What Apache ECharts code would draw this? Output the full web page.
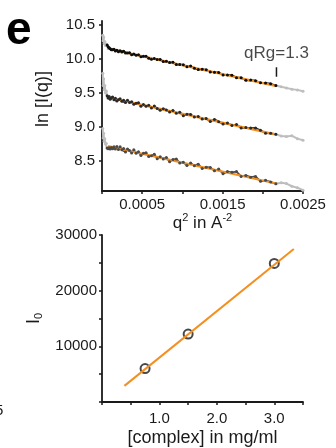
<!DOCTYPE html>
<html>
<head>
<meta charset="utf-8">
<script src="https://cdn.jsdelivr.net/npm/echarts@6/dist/echarts.min.js"></script>
<style>
  html, body { margin: 0; padding: 0; background: #fff; }
  #chart { width: 336px; height: 448px; }
</style>
</head>
<body>
<div id="chart"></div>
<script>
// Guinier plots: q^2 (A^-2) for every measured point
const q2 = [0.0000096, 0.0000144, 0.0000203, 0.000027, 0.0000348, 0.0000436, 0.0000533, 0.000064,
  0.0000757, 0.0000884, 0.000102, 0.0001166, 0.0001323, 0.0001488, 0.0001664, 0.000185, 0.0002045,
  0.000225, 0.0002465, 0.000269, 0.0002924, 0.0003168, 0.0003423, 0.0003686, 0.000396, 0.0004244,
  0.0004537, 0.000484, 0.0005153, 0.0005476, 0.0005808, 0.000615, 0.0006503, 0.0006864, 0.0007236,
  0.0007618, 0.0008009, 0.000841, 0.0008821, 0.0009242, 0.0009672, 0.0010112, 0.0010563, 0.0011022,
  0.0011492, 0.0011972, 0.0012461, 0.001296, 0.0013469, 0.0013988, 0.0014516, 0.0015054, 0.0015603,
  0.001616, 0.0016728, 0.0017306, 0.0017893, 0.001849, 0.0019097, 0.0019714, 0.002034, 0.0020976,
  0.0021623, 0.0022278, 0.0022944, 0.002362, 0.0024305, 0.0025];

// ln I(q) at 3.0, 1.5 and 0.75 mg/ml
const lnHigh = [10.34, 10.26, 10.31, 10.22, 10.25, 10.19, 10.21,
  10.196, 10.173, 10.155, 10.141, 10.127, 10.128, 10.134, 10.109, 10.119, 10.097, 10.112, 10.094,
  10.104, 10.078, 10.080, 10.083, 10.054, 10.065, 10.048, 10.053, 10.026, 10.031, 10.031, 10.004,
  9.987, 9.999, 9.982, 9.984, 9.954, 9.957, 9.938, 9.944, 9.909, 9.911, 9.905, 9.878, 9.888, 9.856,
  9.836, 9.841, 9.832, 9.801, 9.795, 9.793, 9.757, 9.757, 9.752, 9.717, 9.716, 9.679, 9.682, 9.672,
  9.641, 9.637, 9.627, 9.600,
  9.583, 9.566, 9.548, 9.537, 9.518];
const lnMid = [9.78, 9.60, 9.70, 9.54, 9.60, 9.49, 9.52,
  9.450, 9.417, 9.439, 9.400, 9.421, 9.432, 9.393, 9.413, 9.373, 9.393, 9.406, 9.370, 9.384, 9.350,
  9.386, 9.352, 9.362, 9.325, 9.339, 9.348, 9.298, 9.321, 9.295, 9.310, 9.271, 9.301, 9.262, 9.237,
  9.259, 9.242, 9.210, 9.235, 9.194, 9.207, 9.157, 9.177, 9.175, 9.139, 9.144, 9.107, 9.116, 9.073,
  9.103, 9.070, 9.036, 9.049, 9.014, 9.027, 8.977, 8.982, 8.976, 8.977, 8.943, 8.900, 8.899, 8.886,
  8.858, 8.850, 8.862, 8.820, 8.796];
const lnLow = [8.97, 8.83, 8.90, 8.78, 8.82, 8.74, 8.75,
  8.683, 8.670, 8.687, 8.668, 8.689, 8.670, 8.701, 8.666, 8.706, 8.661, 8.701, 8.655, 8.674, 8.623,
  8.667, 8.645, 8.608, 8.656, 8.606, 8.629, 8.573, 8.604, 8.611, 8.557, 8.568, 8.589, 8.524, 8.552,
  8.522, 8.541, 8.479, 8.513, 8.522, 8.461, 8.474, 8.424, 8.460, 8.423, 8.445, 8.382, 8.401, 8.396,
  8.347, 8.373, 8.304, 8.335, 8.325, 8.335, 8.265, 8.279, 8.254, 8.263, 8.192, 8.207, 8.183, 8.156,
  8.172, 8.160, 8.120, 8.098, 8.062];

// index range used for the Guinier fit (up to qRg = 1.3)
const FIT_FIRST = 7;
const FIT_LAST = 62;

// fitted Guinier lines, end points [q^2, ln I]
const fitHigh = [[0.0000625, 10.147], [0.00217, 9.593]];
const fitMid = [[0.0000625, 9.431], [0.00217, 8.878]];
const fitLow = [[0.000075, 8.710], [0.00218, 8.157]];

// qRg = 1.3 limit marker
const qRgLimit = [[0.00217, 9.87], [0.00217, 9.73]];
const qRgText = 'qRg=1.3';

// tick labels
const guinierXLabels = [0.0005, 0.0015, 0.0025];
const guinierYLabels = [8.5, 9.0, 9.5, 10.0, 10.5];

// forward scattering vs concentration
const concentration = [0.75, 1.5, 3.0];
const intensity0 = [6000, 12200, 24900];
const intensityFit = [[0.39, 2900], [3.34, 27500]];
const concXLabels = [1.0, 2.0, 3.0];
const concYLabels = [10000, 20000, 30000];

const FONT = '"Liberation Sans", Arial, Helvetica, sans-serif';
const INK = '#1a1a1a';
const ORANGE = '#f39021';
const PALE = '#bebebe';

function slice(xs, ys, from, to) {
  const out = [];
  for (let i = from; i <= to; i++) out.push([xs[i], ys[i]]);
  return out;
}

const curves = [
  { values: lnHigh, fit: fitHigh, color: '#0d0d0d' },
  { values: lnMid, fit: fitMid, color: '#2a2a2a' },
  { values: lnLow, fit: fitLow, color: '#4a4a4a' }
];

// measured points: joined dots so the noisy trace reads as one band
function trace(data, color, size, width) {
  return {
    type: 'line', xAxisIndex: 0, yAxisIndex: 0, silent: true,
    symbol: 'circle', symbolSize: size, showSymbol: true,
    itemStyle: { color }, lineStyle: { color, width },
    data
  };
}

const series = [];
curves.forEach(c => {
  series.push(trace(slice(q2, c.values, 0, FIT_FIRST), PALE, 3, 2));
  series.push(trace(slice(q2, c.values, FIT_LAST, q2.length - 1), PALE, 3, 2));
});
curves.forEach(c => {
  series.push(trace(slice(q2, c.values, FIT_FIRST, FIT_LAST), c.color, 3, 1.8));
});
curves.forEach(c => {
  series.push({
    type: 'line', xAxisIndex: 0, yAxisIndex: 0, silent: true,
    symbol: 'none', lineStyle: { color: ORANGE, width: 2.2 },
    data: c.fit
  });
});
series.push({
  type: 'line', xAxisIndex: 0, yAxisIndex: 0, silent: true,
  symbol: 'none', lineStyle: { color: INK, width: 1.5 },
  data: qRgLimit
});
series.push({
  type: 'scatter', xAxisIndex: 0, yAxisIndex: 0, silent: true,
  symbolSize: 0, itemStyle: { color: INK },
  label: { show: true, position: 'top', distance: 5, formatter: qRgText,
           fontSize: 17, fontFamily: FONT, color: INK },
  data: [qRgLimit[0]]
});
series.push({
  type: 'line', xAxisIndex: 1, yAxisIndex: 1, silent: true,
  symbol: 'none', lineStyle: { color: ORANGE, width: 2 },
  data: intensityFit
});
series.push({
  type: 'scatter', xAxisIndex: 1, yAxisIndex: 1, silent: true,
  symbol: 'emptyCircle', symbolSize: 9,
  itemStyle: { color: INK, borderColor: INK, borderWidth: 2 },
  data: concentration.map((c, i) => [c, intensity0[i]])
});

const axisLine = { show: true, onZero: false, lineStyle: { color: INK, width: 1.8 } };
const plainTick = { show: true, length: 3, lineStyle: { color: INK, width: 1.5 } };
const labelStyle = { fontSize: 15, fontFamily: FONT, color: INK };

const option = {
  backgroundColor: '#fff',
  animation: false,
  grid: [
    { left: 102, top: 21, width: 201, height: 170 },
    { left: 102, top: 235, width: 201, height: 169 }
  ],
  xAxis: [
    {
      gridIndex: 0, type: 'value', min: 0, max: 0.0025, interval: 0.0005,
      axisLine, axisTick: plainTick, splitLine: { show: false },
      axisLabel: Object.assign({ customValues: guinierXLabels, margin: 6,
                                 formatter: v => v.toFixed(4) }, labelStyle),
      name: '{t|q}{s|2}{t| in A}{s|-2}', nameLocation: 'middle', nameGap: 16,
      nameTextStyle: {
        rich: {
          t: { fontSize: 17, fontFamily: FONT, color: INK },
          s: { fontSize: 11, fontFamily: FONT, color: INK, padding: [0, 0, 9, 0] }
        }
      }
    },
    {
      gridIndex: 1, type: 'value', min: 0, max: 3.5, interval: 0.5,
      axisLine, axisTick: plainTick, splitLine: { show: false },
      axisLabel: Object.assign({ customValues: concXLabels, margin: 9,
                                 formatter: v => v.toFixed(1) }, labelStyle),
      name: '[complex] in mg/ml', nameLocation: 'middle', nameGap: 27,
      nameTextStyle: { fontSize: 18, fontFamily: FONT, color: INK }
    }
  ],
  yAxis: [
    {
      gridIndex: 0, type: 'value', min: 8.05, max: 10.55,
      axisLine, axisTick: Object.assign({ customValues: guinierYLabels }, plainTick),
      splitLine: { show: false },
      axisLabel: Object.assign({ customValues: guinierYLabels, margin: 7,
                                 formatter: v => v.toFixed(1) }, labelStyle),
      name: 'ln [I(q)]', nameLocation: 'middle', nameGap: 50,
      nameTextStyle: { fontSize: 18, fontFamily: FONT, color: INK, padding: [0, 0, 0, 14] }
    },
    {
      gridIndex: 1, type: 'value', min: 0, max: 30000, interval: 5000,
      axisLine, axisTick: plainTick, splitLine: { show: false },
      axisLabel: Object.assign({ customValues: concYLabels, margin: 5,
                                 formatter: v => String(v) }, labelStyle),
      name: '{i|I}{s|0}', nameLocation: 'middle', nameGap: 47,
      nameTextStyle: {
        rich: {
          i: { fontSize: 18, fontFamily: FONT, color: INK },
          s: { fontSize: 11, fontFamily: FONT, color: INK, padding: [10, 0, 0, 0] }
        }
      }
    }
  ],
  graphic: [
    { type: 'text', left: 6, top: 8,
      style: { text: 'e', font: 'bold 46px ' + FONT, fill: '#000' } },
    { type: 'text', left: -5, top: 403,
      style: { text: '5', font: '15px ' + FONT, fill: INK } }
  ],
  series
};

const chart = echarts.init(document.getElementById('chart'), null, { renderer: 'canvas' });
chart.setOption(option);
</script>
</body>
</html>
